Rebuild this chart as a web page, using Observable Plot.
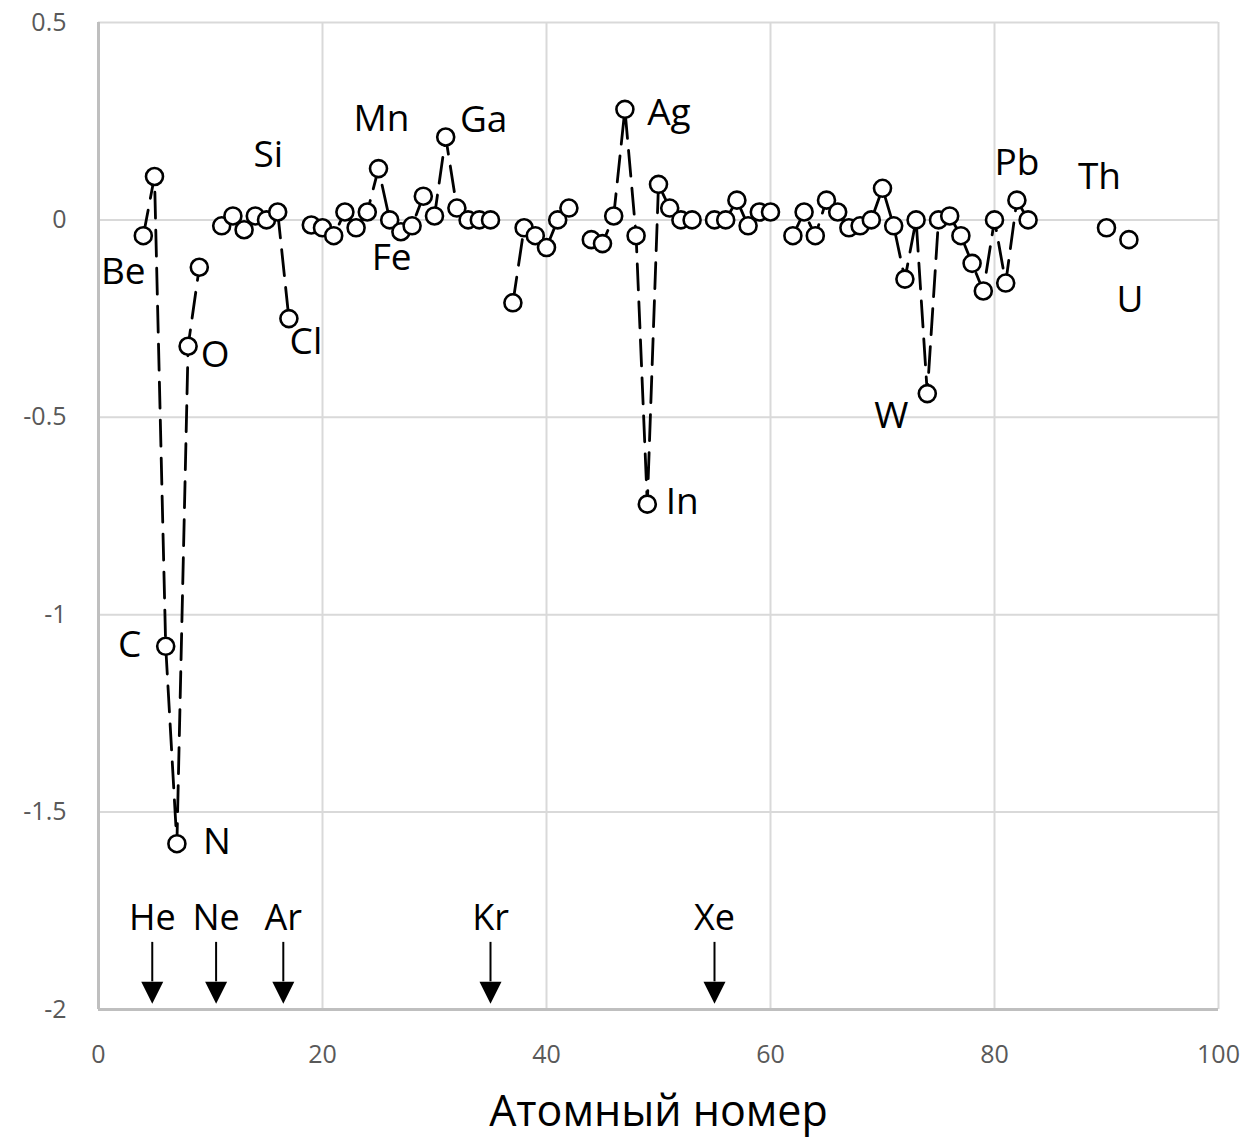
<!DOCTYPE html>
<html>
<head>
<meta charset="utf-8">
<script src="https://cdn.jsdelivr.net/npm/d3@7"></script>
<script src="https://cdn.jsdelivr.net/npm/@observablehq/plot@0.6"></script>
<style>
  html, body { margin: 0; padding: 0; background: #fff; }
  #chart svg { display: block; }
</style>
</head>
<body>
<div id="chart"></div>
<script>
// Atomic numbers and deviation values
const atomicNumbers = [4, 5, 6, 7, 8, 9, 11, 12, 13, 14, 15, 16, 17, 19, 20, 21, 22, 23, 24, 25, 26, 27, 28, 29, 30, 31, 32, 33, 34, 35,
  37, 38, 39, 40, 41, 42, 44, 45, 46, 47, 48, 49, 50, 51, 52, 53, 55, 56, 57, 58, 59, 60,
  62, 63, 64, 65, 66, 67, 68, 69, 70, 71, 72, 73, 74, 75, 76, 77, 78, 79, 80, 81, 82, 83, 90, 92];
const deviations = [-0.04, 0.11, -1.08, -1.58, -0.32, -0.12, -0.015, 0.01, -0.025, 0.01, 0.0, 0.02, -0.25, -0.013, -0.02, -0.04, 0.02, -0.02, 0.02, 0.13, 0.0, -0.03, -0.015, 0.06, 0.01, 0.21, 0.03, 0.0, 0.0, 0.0,
  -0.21, -0.02, -0.04, -0.07, 0.0, 0.03, -0.05, -0.06, 0.01, 0.28, -0.04, -0.72, 0.09, 0.03, 0.0, 0.0, 0.0, 0.0, 0.05, -0.015, 0.02, 0.02,
  -0.04, 0.02, -0.04, 0.05, 0.02, -0.02, -0.015, 0.0, 0.08, -0.015, -0.15, 0.0, -0.44, 0.0, 0.01, -0.04, -0.11, -0.18, 0.0, -0.16, 0.05, 0.0, -0.02, -0.05];

// Labelled elements
const labelSymbols = ["Be", "C", "N", "O", "Si", "Cl", "Mn", "Fe", "Ga", "Ag", "In", "W", "Pb", "Th", "U"];
const labelNumbers = [4, 6, 7, 8, 14, 17, 25, 26, 31, 47, 49, 74, 82, 90, 92];

// Noble gases marked with arrows
const gasSymbols = ["He", "Ne", "Ar", "Kr", "Xe"];
const gasPositions = [4.8, 10.5, 16.5, 35, 55];

const xTicks = [0, 20, 40, 60, 80, 100];
const yTicks = [0.5, 0, -0.5, -1, -1.5, -2];
const xLabel = "Атомный номер";

// ---- derived tables ----
const valueByZ = new Map(atomicNumbers.map((z, i) => [z, deviations[i]]));
const points = atomicNumbers.map((z, i) => ({z, v: deviations[i]}));
// full sequence with NaN where elements are missing, so the line breaks there
const lineData = d3.range(d3.min(atomicNumbers), d3.max(atomicNumbers) + 1)
  .map(z => ({z, v: valueByZ.has(z) ? valueByZ.get(z) : NaN}));

// label offsets (styling, pixels)
const labelOffsets = {
  Be: [-20, 36], C: [-36, -1], N: [40, -2], O: [27, 9], Si: [13, -61], Cl: [17, 24],
  Mn: [3, -49], Fe: [2, 38], Ga: [38, -17], Ag: [44, 4], In: [35, -2], W: [-36, 23],
  Pb: [0, -37], Th: [-7, -51], U: [1, 61]
};
const labels = labelSymbols.map((s, i) => ({s, z: labelNumbers[i], v: valueByZ.get(labelNumbers[i])}));
const gases = gasSymbols.map((s, i) => ({s, z: gasPositions[i]}));

const downTriangle = {
  draw(context, size) {
    const h = 22, w = 22;
    context.moveTo(-w / 2, -h / 2);
    context.lineTo(w / 2, -h / 2);
    context.lineTo(0, h / 2);
    context.closePath();
  }
};

const font = "'Open Sans', 'Noto Sans', sans-serif";

const labelMarks = labels.map(d => Plot.text([d], {
  x: "z", y: "v", text: "s",
  dx: labelOffsets[d.s][0], dy: labelOffsets[d.s][1],
  fontSize: 37, fill: "#000"
}));

const chart = Plot.plot({
  width: 1252,
  height: 1141,
  marginLeft: 98,
  marginRight: 34,
  marginTop: 22,
  marginBottom: 132,
  style: {fontFamily: font, background: "#fff", overflow: "visible"},
  x: {domain: [0, 100], ticks: xTicks},
  y: {domain: [-2, 0.5], ticks: yTicks},
  marks: [
    Plot.gridX(xTicks.filter(t => t > 0), {stroke: "#d9d9d9", strokeOpacity: 1, strokeWidth: 2}),
    Plot.gridY(yTicks.filter(t => t > -2), {stroke: "#d9d9d9", strokeOpacity: 1, strokeWidth: 2}),
    Plot.ruleX([0], {stroke: "#bfbfbf", strokeWidth: 3}),
    Plot.ruleY([-2], {stroke: "#bfbfbf", strokeWidth: 3}),
    Plot.axisX({ticks: xTicks, tickSize: 0, tickPadding: 36, fontSize: 25, color: "#595959", label: null, tickFormat: d => String(d)}),
    Plot.axisY({ticks: yTicks, tickSize: 0, tickPadding: 32, fontSize: 25, color: "#595959", label: null, tickFormat: d => String(d)}),
    Plot.text([xLabel], {frameAnchor: "bottom", dy: 103, fontSize: 43, fill: "#000", lineAnchor: "middle"}),
    // noble gas arrows
    Plot.ruleX(gases, {x: "z", y1: -1.83, y2: -1.93, stroke: "#000", strokeWidth: 2}),
    Plot.dot(gases, {x: "z", y: -1.9575, symbol: downTriangle, fill: "#000", stroke: null, r: 5}),
    Plot.text(gases, {x: "z", y: -1.77, text: "s", fontSize: 36, fill: "#000"}),
    // data
    Plot.line(lineData, {x: "z", y: "v", stroke: "#000", strokeWidth: 2.8, strokeDasharray: "26,12", curve: "linear"}),
    Plot.dot(points, {x: "z", y: "v", r: 8.5, fill: "#fff", stroke: "#000", strokeWidth: 2.6}),
    ...labelMarks
  ]
});
document.getElementById("chart").append(chart);
</script>
</body>
</html>
